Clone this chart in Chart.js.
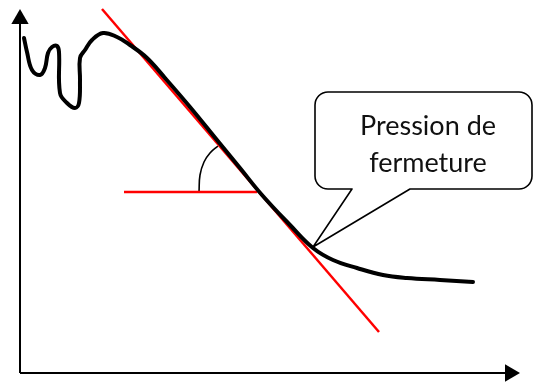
<!DOCTYPE html>
<html>
<head>
<meta charset="utf-8">
<script src="https://cdn.jsdelivr.net/npm/chart.js@4.4.0/dist/chart.umd.min.js"></script>
<style>
  html, body { margin: 0; background: #fff; }
  #wrap { width: 534px; height: 383px; position: relative; }
</style>
</head>
<body>
<div id="wrap"><canvas id="chart"></canvas></div>
<script>
// sketch units: origin at the axes corner, y upwards
const curveX = [4, 7, 12, 20, 25, 28, 32, 37, 39, 40, 47, 55, 59, 60, 60, 65, 72, 83, 97, 110, 127, 145, 170, 197, 220, 242, 270, 293, 313, 337, 363, 387, 420, 453];
const curveY = [335, 321, 303, 298, 305, 320, 326, 327, 321, 280, 270, 265, 270, 293, 315, 323, 333, 340, 336, 328, 315, 295, 266, 233, 205, 178, 148, 125, 113, 105, 98, 95, 93, 91];

const tangentX = [82, 359];
const tangentY = [364, 41];

const levelX = [104, 237];
const levelY = [181, 181];

const angleX = [179, 180, 184, 190, 198];
const angleY = [181, 198, 211, 220, 227];

const yAxisX = [0, 0];
const yAxisY = [0, 354];
const xAxisX = [0, 490];
const xAxisY = [0, 0];

// callout: the point it marks, and its label
const calloutTip = { x: 293, y: 126 };
const calloutLines = ['Pression de', 'fermeture'];

const toPoints = (xs, ys) => xs.map((x, i) => ({ x, y: ys[i] }));

const calloutPlugin = {
  id: 'callout',
  afterDatasetsDraw(chart) {
    const { ctx, scales: { x, y } } = chart;
    const left = x.getPixelForValue(295);
    const right = x.getPixelForValue(512);
    const top = y.getPixelForValue(281);
    const bottom = y.getPixelForValue(184);
    const gapL = x.getPixelForValue(332);
    const gapR = x.getPixelForValue(390);
    const tipX = x.getPixelForValue(calloutTip.x);
    const tipY = y.getPixelForValue(calloutTip.y);
    const r = 13;

    ctx.save();
    ctx.strokeStyle = '#000';
    ctx.lineWidth = 1.6;
    ctx.lineJoin = 'round';
    ctx.beginPath();
    ctx.moveTo(gapL, bottom);
    ctx.lineTo(left + r, bottom);
    ctx.arcTo(left, bottom, left, bottom - r, r);
    ctx.lineTo(left, top + r);
    ctx.arcTo(left, top, left + r, top, r);
    ctx.lineTo(right - r, top);
    ctx.arcTo(right, top, right, top + r, r);
    ctx.lineTo(right, bottom - r);
    ctx.arcTo(right, bottom, right - r, bottom, r);
    ctx.lineTo(gapR, bottom);
    ctx.lineTo(tipX, tipY);
    ctx.closePath();
    ctx.fillStyle = '#fff';
    ctx.fill();
    ctx.stroke();

    ctx.fillStyle = '#111';
    ctx.font = '27px Lato, "Liberation Sans", sans-serif';
    ctx.textAlign = 'center';
    ctx.textBaseline = 'alphabetic';
    const cx = x.getPixelForValue(408);
    ctx.fillText(calloutLines[0], cx, y.getPixelForValue(238));
    ctx.fillText(calloutLines[1], cx, y.getPixelForValue(201));
    ctx.restore();
  }
};

const lineSet = (data, color, width, extra = {}) => ({
  data,
  showLine: true,
  borderColor: color,
  backgroundColor: color,
  borderWidth: width,
  pointRadius: 0,
  clip: false,
  ...extra
});

new Chart(document.querySelector('#chart'), {
  type: 'scatter',
  data: {
    datasets: [
      lineSet(toPoints(curveX, curveY), '#000', 4, { tension: 0.4, borderCapStyle: 'round', borderJoinStyle: 'round' }),
      lineSet(toPoints(tangentX, tangentY), '#ff0000', 2.5),
      lineSet(toPoints(levelX, levelY), '#ff0000', 2.5),
      lineSet(toPoints(angleX, angleY), '#000', 1.6, { tension: 0.4 }),
      lineSet(toPoints(yAxisX, yAxisY), '#000', 2, {
        pointRadius: [0, 10], pointStyle: 'triangle', pointBorderWidth: 0, rotation: 0
      }),
      lineSet(toPoints(xAxisX, xAxisY), '#000', 2, {
        pointRadius: [0, 10], pointStyle: 'triangle', pointBorderWidth: 0, rotation: 90
      })
    ]
  },
  options: {
    responsive: true,
    maintainAspectRatio: false,
    animation: false,
    layout: { padding: 0, autoPadding: false },
    plugins: { legend: { display: false }, tooltip: { enabled: false } },
    scales: {
      x: { type: 'linear', min: -20, max: 514, display: false },
      y: { type: 'linear', min: -10, max: 373, display: false }
    }
  },
  plugins: [calloutPlugin]
});
</script>
</body>
</html>
